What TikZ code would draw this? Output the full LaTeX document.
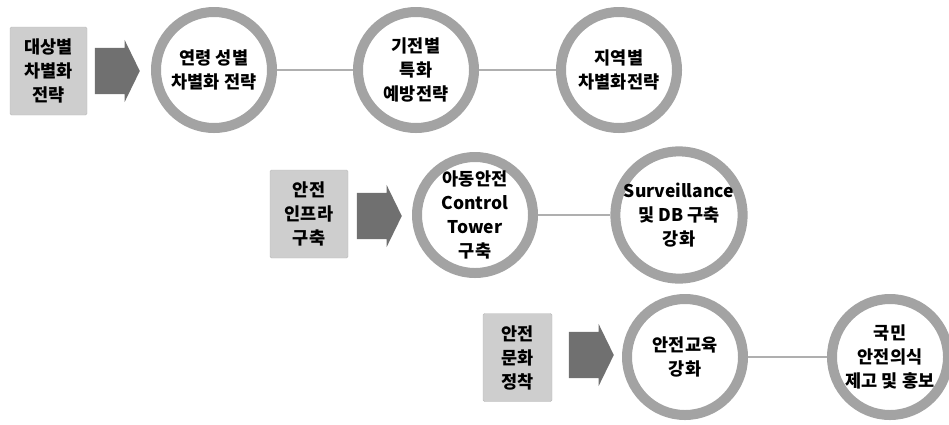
\documentclass[tikz,border=0pt]{standalone}
\usepackage{fontspec}
\setmainfont{Noto Sans CJK KR}
\usetikzlibrary{shapes,arrows}

\definecolor{ringgray}{RGB}{163,163,163}
\definecolor{boxgray}{RGB}{206,206,206}
\definecolor{boxline}{RGB}{186,186,186}
\definecolor{arrowgray}{RGB}{112,112,112}
\definecolor{linkgray}{RGB}{175,175,175}

\begin{document}
\begin{tikzpicture}[x=1pt,y=-1pt,
    ring/.style={draw=ringgray, shape=circle, line width=10pt, minimum size=116pt, inner sep=0pt, align=center, font=\bfseries\fontsize{17.5}{24}\selectfont},
    goal/.style={draw=boxline, fill=boxgray, rounded corners=1.5pt, minimum width=#1, minimum height=88pt, inner sep=0pt, align=center, font=\bfseries\fontsize{17.5}{24}\selectfont},
    bigarrow/.style={shape=single arrow, fill=arrowgray, anchor=tip, minimum height=45pt, inner xsep=0pt, inner ysep=23pt, single arrow head extend=8pt, single arrow tip angle=128},
    link/.style={draw=linkgray, line width=1.4pt}]
    \useasboundingbox (0,0) rectangle (949,424);
    % row 1
    \node[goal=77pt] (G1) at (48.5,71) {대상별\\차별화\\전략};
    \node[bigarrow] (A1) at (140,71) {};
    \node[ring] (R11) at (214,70) {연령 성별\\차별화 전략};
    \node[ring] (R12) at (416,70) {기전별\\특화\\예방전략};
    \node[ring] (R13) at (619,70) {지역별\\차별화전략};
    \draw[link] (R11) -- (R12);
    \draw[link] (R12) -- (R13);
    % row 2
    \node[goal=78pt] (G2) at (309,214) {안전\\인프라\\구축};
    \node[bigarrow] (A2) at (402,216) {};
    \node[ring] (R21) at (475,215) {아동안전\\Control\\Tower\\구축};
    \node[ring] (R22) at (679,215) {Surveillance\\및 DB 구축\\강화};
    \draw[link] (R21) -- (R22);
    % row 3
    \node[goal=69pt] (G3) at (517.5,357.5) {안전\\문화\\정착};
    \node[bigarrow] (A3) at (614,355) {};
    \node[ring] (R31) at (685,357) {안전교육\\강화};
    \node[ring] (R32) at (890,357) {국민\\안전의식\\제고 및 홍보};
    \draw[link] (R31) -- (R32);
\end{tikzpicture}
\end{document}
